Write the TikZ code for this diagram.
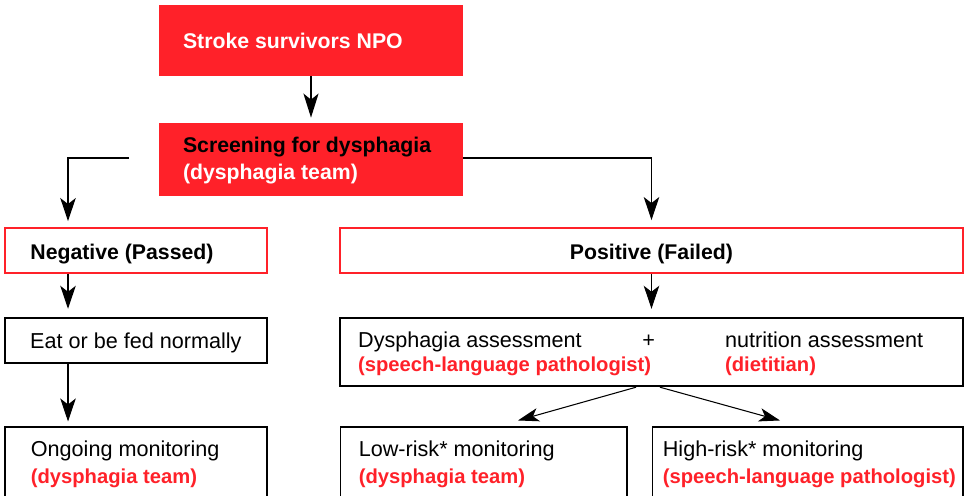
\documentclass[tikz,border=0pt]{standalone}
\usepackage{fontspec}
\setmainfont{Liberation Sans}
\usetikzlibrary{arrows.meta,positioning}
\definecolor{fcred}{RGB}{255,33,41}
\newcommand{\bt}[1]{{\fontsize{12.1}{15.4}\selectfont\bfseries #1}}
\newcommand{\rt}[1]{{\fontsize{11.5}{15.4}\selectfont\bfseries\color{fcred}#1}}
\tikzset{
	redbox/.style={fill=fcred,draw=none,inner sep=0pt,minimum width=6.08cm},
	redframe/.style={draw=fcred,line width=1.1pt,inner sep=0pt,minimum height=0.9cm},
	thickframe/.style={draw=black,line width=1.4pt,inner sep=0pt},
	thinframe/.style={draw=black,line width=0.6pt,inner sep=0pt,minimum height=1.48cm},
	lbl/.style={anchor=west,inner sep=0pt,align=left,font=\fontsize{12.3}{15.4}\selectfont},
	arr/.style={-{Stealth[length=0.46cm,width=0.31cm,inset=0.12cm]},line width=0.6pt,shorten >=0.14cm},
}
\begin{document}
\begin{tikzpicture}[x=0.02cm,y=-0.02cm]
	\useasboundingbox (0,0) rectangle (965,496);
	% boxes
	\node[redbox,minimum height=1.42cm] (stroke) at (311,40.5) {};
	\node[redbox,minimum height=1.46cm] (screen) at (311,159.5) {};
	\node[redframe,minimum width=5.24cm] (neg) at (136,250.5) {};
	\node[redframe,minimum width=12.46cm] (pos) at (651.5,250.5) {};
	\node[thickframe,minimum width=5.24cm,minimum height=0.9cm] (eat) at (136,340.5) {};
	\node[thickframe,minimum width=12.46cm,minimum height=1.36cm] (assess) at (651.5,352) {};
	\node[thinframe,minimum width=5.24cm] (ongoing) at (136,464) {};
	\node[thinframe,minimum width=5.74cm] (lowrisk) at (483.5,464) {};
	\node[thinframe,minimum width=6.22cm] (highrisk) at (807.5,464) {};
	% texts
	\node[lbl] (strokeTxt) at ([xshift=0.48cm]stroke.west) {\bt{\color{white}Stroke survivors NPO}};
	\node[lbl] (screenTxt) at ([xshift=0.48cm,yshift=-0.02cm]screen.west) {\bt{Screening for dysphagia}\\\bt{\color{white}(dysphagia team)}};
	\node[lbl] (negTxt) at ([xshift=0.52cm,yshift=-0.07cm]neg.west) {\bt{Negative (Passed)}};
	\node[lbl,anchor=center] (posTxt) at ([yshift=-0.07cm]pos.center) {\bt{Positive (Failed)}};
	\node[lbl] (eatTxt) at ([xshift=0.52cm,yshift=-0.04cm]eat.west) {Eat or be fed normally};
	\node[lbl] (assessL) at ([xshift=0.38cm,yshift=-0.04cm]assess.west) {Dysphagia assessment\\[-1.7pt]\rt{(speech-language pathologist)}};
	\node[lbl,anchor=center] (plus) at ([xshift=6.2cm,yshift=0.22cm]assess.west) {+};
	\node[lbl] (assessR) at ([xshift=7.72cm,yshift=-0.04cm]assess.west) {nutrition assessment\\[-1.7pt]\rt{(dietitian)}};
	\node[lbl] (ongoingTxt) at ([xshift=0.52cm,yshift=-0.01cm]ongoing.west) {Ongoing monitoring\\\rt{(dysphagia team)}};
	\node[lbl] (lowTxt) at ([xshift=0.38cm,yshift=-0.01cm]lowrisk.west) {Low-risk* monitoring\\\rt{(dysphagia team)}};
	\node[lbl] (highTxt) at ([xshift=0.22cm,yshift=-0.01cm]highrisk.west) {High-risk* monitoring\\\rt{(speech-language pathologist)}};
	% connectors
	\coordinate (split) at (129,158);
	\draw[arr,line width=1.4pt,shorten >=0.1cm,-{Stealth[length=0.48cm,width=0.3cm,inset=0.12cm]}] (stroke) -- (screen);
	\draw[arr,shorten >=0.12cm] (split) -| ([xshift=-1.36cm]neg.north);
	\draw[arr,shorten >=0.14cm] (screen.east |- split) -| (pos.north);
	\draw[arr,shorten >=0.16cm] ([xshift=-1.36cm]neg.south) -- ([xshift=-1.36cm]eat.north);
	\draw[arr,shorten >=0.16cm] (pos) -- (assess);
	\draw[arr,shorten >=0.1cm] ([xshift=-1.36cm]eat.south) -- ([xshift=-1.36cm]ongoing.north);
	\draw[arr,shorten >=0pt,-{Stealth[length=0.42cm,width=0.27cm,inset=0.11cm]}] ([xshift=-0.31cm]assess.south) -- ([xshift=0.69cm,yshift=0.12cm]lowrisk.north);
	\draw[arr,shorten >=0pt,-{Stealth[length=0.42cm,width=0.27cm,inset=0.11cm]}] ([xshift=0.17cm]assess.south) -- ([xshift=-0.55cm,yshift=0.12cm]highrisk.north);
\end{tikzpicture}
\end{document}
